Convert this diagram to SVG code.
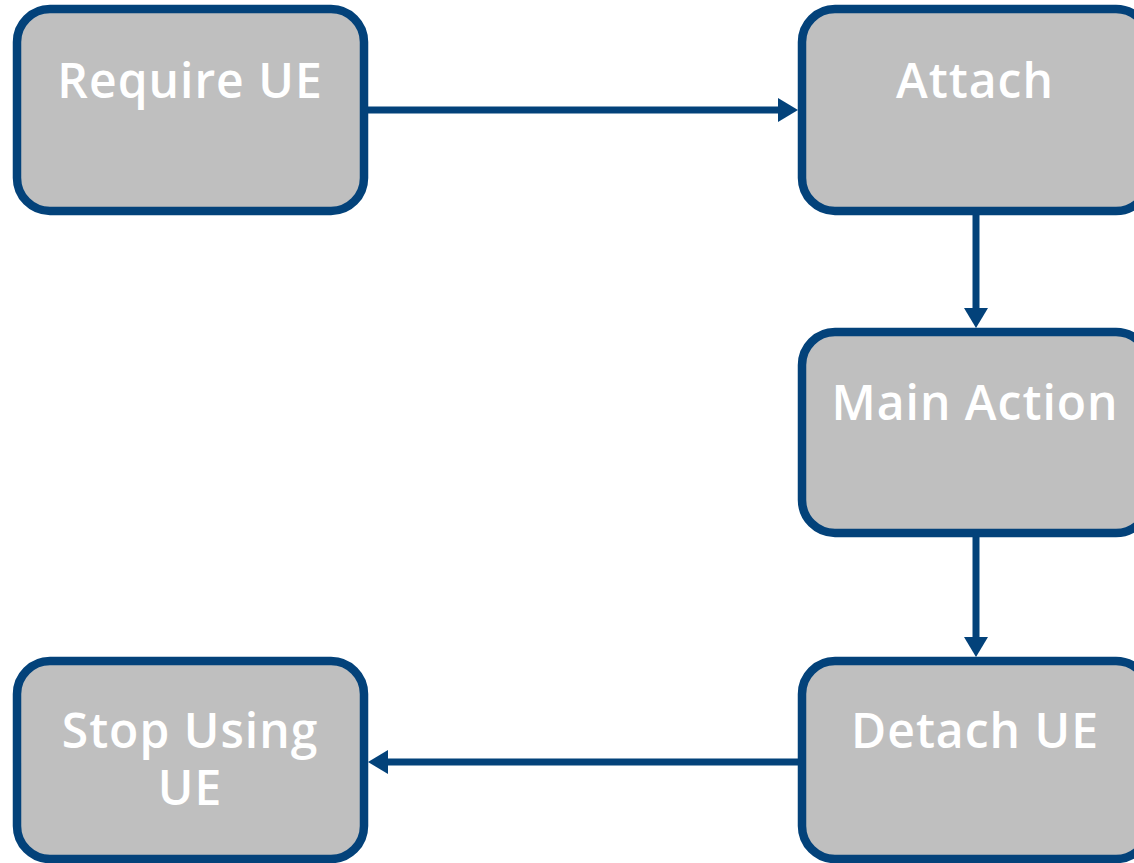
<svg xmlns="http://www.w3.org/2000/svg" width="1134" height="863" viewBox="0 0 1134 863">
<style>
.box{fill:#BFBFBF;stroke:#03427A;stroke-width:8.5}
.lbl{font-family:"Open Sans","Liberation Sans",sans-serif;font-weight:600;font-size:48px;letter-spacing:1px;fill:#FFFFFF;text-anchor:middle}
.edge{stroke:#03427A;stroke-width:7;fill:none}
</style>
<defs>
<marker id="arr" markerUnits="userSpaceOnUse" markerWidth="22" markerHeight="26" refX="0" refY="12" orient="auto" viewBox="0 0 22 24" overflow="visible">
<path d="M0,0 L20,12 L0,24 z" fill="#03427A"/>
</marker>
</defs>
<rect width="1134" height="863" fill="#FFFFFF"/>
<g id="connectors">
<path class="edge" d="M364,110 L778,110" marker-end="url(#arr)"/>
<path class="edge" d="M976,215 L976,308" marker-end="url(#arr)"/>
<path class="edge" d="M976,537 L976,637" marker-end="url(#arr)"/>
<path class="edge" d="M802,762 L388,762" marker-end="url(#arr)"/>
</g>
<g id="require-ue">
<rect class="box" x="17" y="9" width="347" height="202" rx="33"/>
<text class="lbl" x="190" y="98">Require UE</text>
</g>
<g id="attach">
<rect class="box" x="802" y="9" width="347" height="202" rx="33"/>
<text class="lbl" x="975" y="98">Attach</text>
</g>
<g id="main-action">
<rect class="box" x="802" y="332" width="347" height="201" rx="33"/>
<text class="lbl" x="975" y="420">Main Action</text>
</g>
<g id="detach-ue">
<rect class="box" x="802" y="661" width="347" height="198" rx="33"/>
<text class="lbl" x="975" y="748">Detach UE</text>
</g>
<g id="stop-using-ue">
<rect class="box" x="17" y="661" width="347" height="198" rx="33"/>
<text class="lbl" x="190" y="748">Stop Using</text>
<text class="lbl" x="190" y="805">UE</text>
</g>
</svg>
